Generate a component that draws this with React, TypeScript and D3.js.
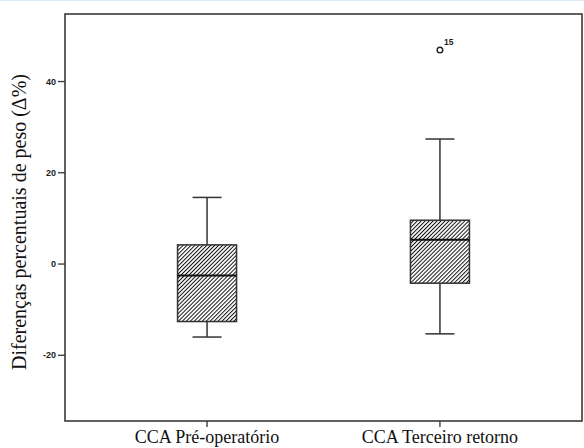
import React from "react";
import * as d3 from "d3";

// groups and their box statistics
const groups = ["CCA Pré-operatório", "CCA Terceiro retorno"];
const lowerWhisker = [-16, -15.3];
const q1 = [-12.6, -4.2];
const median = [-2.5, 5.3];
const q3 = [4.2, 9.6];
const upperWhisker = [14.6, 27.4];
const outliers = [
  { group: "CCA Terceiro retorno", value: 46.9, label: "15" },
];
const yTicks = [-20, 0, 20, 40];

const W = 584;
const H = 448;
const margin = { left: 65, right: 2, top: 14, bottom: 27 };

const App = () => {
  const x = d3
    .scalePoint<string>()
    .domain(groups)
    .range([margin.left, W - margin.right])
    .padding(0.61);

  const y = d3
    .scaleLinear()
    .domain([-34.4, 54.8])
    .range([H - margin.bottom, margin.top]);

  const boxW = 59;
  const capW = 29;
  const stroke = "#333";

  return (
    <svg
      width={W}
      height={H}
      style={{ position: "absolute", left: 0, top: 0, background: "#fff" }}
    >
      <defs>
        <pattern
          id="hatch"
          patternUnits="userSpaceOnUse"
          width={2.8}
          height={2.8}
          patternTransform="rotate(45)"
        >
          <rect width={2.8} height={2.8} fill="#fff" />
          <line x1={0} y1={0} x2={0} y2={2.8} stroke="#111" strokeWidth={2} />
        </pattern>
      </defs>

      <rect x={0} y={0} width={W} height={1} fill="#dcebf6" />

      {/* frame */}
      <rect
        x={margin.left}
        y={margin.top}
        width={W - margin.left - margin.right}
        height={H - margin.top - margin.bottom}
        fill="none"
        stroke="#3a3a3a"
        strokeWidth={1.6}
      />

      {/* y ticks */}
      {yTicks.map((t) => (
        <g key={t}>
          <line
            x1={margin.left - 7}
            x2={margin.left}
            y1={y(t)}
            y2={y(t)}
            stroke={stroke}
            strokeWidth={1.3}
          />
          <text
            x={margin.left - 9}
            y={y(t)}
            dy="0.35em"
            textAnchor="end"
            fontFamily="Liberation Sans, Arial, sans-serif"
            fontWeight="bold"
            fontSize={9}
            fill="#222"
          >
            {t}
          </text>
        </g>
      ))}

      <text
        transform="translate(26,222) rotate(-90)"
        textAnchor="middle"
        fontFamily="Liberation Serif, Times New Roman, serif"
        fontSize={20}
        fill="#111"
      >
        Diferenças percentuais de peso (Δ%)
      </text>

      {/* x ticks */}
      {groups.map((g) => (
        <g key={g}>
          <line
            x1={x(g)}
            x2={x(g)}
            y1={H - margin.bottom}
            y2={H - margin.bottom + 6}
            stroke={stroke}
            strokeWidth={1.3}
          />
          <text
            x={x(g)}
            y={443}
            textAnchor="middle"
            fontFamily="Liberation Serif, Times New Roman, serif"
            fontSize={18}
            fill="#111"
          >
            {g}
          </text>
        </g>
      ))}

      {/* boxes */}
      {groups.map((g, i) => {
        const cx = x(g) as number;
        return (
          <g key={g}>
            <line x1={cx} x2={cx} y1={y(upperWhisker[i])} y2={y(q3[i])} stroke={stroke} strokeWidth={1.5} />
            <line x1={cx} x2={cx} y1={y(q1[i])} y2={y(lowerWhisker[i])} stroke={stroke} strokeWidth={1.5} />
            <line x1={cx - capW / 2} x2={cx + capW / 2} y1={y(upperWhisker[i])} y2={y(upperWhisker[i])} stroke={stroke} strokeWidth={1.5} />
            <line x1={cx - capW / 2} x2={cx + capW / 2} y1={y(lowerWhisker[i])} y2={y(lowerWhisker[i])} stroke={stroke} strokeWidth={1.5} />
            <rect
              x={cx - boxW / 2}
              y={y(q3[i])}
              width={boxW}
              height={y(q1[i]) - y(q3[i])}
              fill="url(#hatch)"
              stroke={stroke}
              strokeWidth={1.5}
            />
            <line x1={cx - boxW / 2} x2={cx + boxW / 2} y1={y(median[i])} y2={y(median[i])} stroke="#111" strokeWidth={2} />
          </g>
        );
      })}

      {/* outliers */}
      {outliers.map((o) => (
        <g key={o.label}>
          <circle cx={x(o.group)} cy={y(o.value)} r={2.8} fill="#fff" stroke="#222" strokeWidth={1.4} />
          <text
            x={(x(o.group) as number) + 4}
            y={y(o.value) - 5}
            fontFamily="Liberation Sans, Arial, sans-serif"
            fontWeight="bold"
            fontSize={8.5}
            fill="#222"
          >
            {o.label}
          </text>
        </g>
      ))}
    </svg>
  );
};

export default App;
